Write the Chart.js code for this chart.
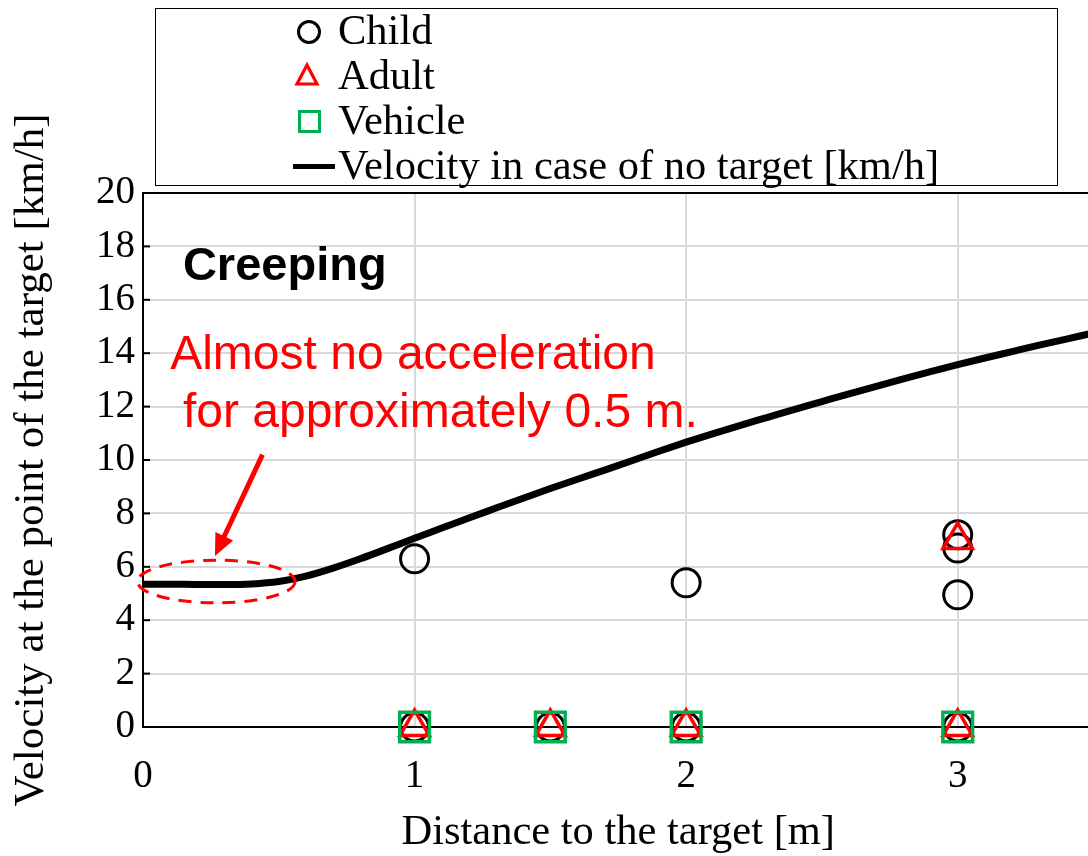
<!DOCTYPE html>
<html lang="en">
<head>
    <meta charset="UTF-8">
    <title>Creeping velocity</title>
    <script src="https://cdn.jsdelivr.net/npm/chart.js"></script>
    <style>
        html, body { margin: 0; padding: 0; background: #fff; overflow: hidden; }
        #wrap { position: absolute; left: 0; top: 0; width: 1118px; height: 856px; }
        #legend {
            position: absolute; left: 155px; top: 8px; width: 901px; height: 176px;
            border: 1.5px solid #000; background: #fff; z-index: 2;
            font-family: "Liberation Serif", "Times New Roman", serif; font-size: 42.5px; color: #000;
        }
        .row { position: absolute; left: 0; height: 45px; line-height: 45px; white-space: nowrap; }
        .row span.txt { position: absolute; left: 182px; top: -2px; }
        .mk { position: absolute; }
        .circle { left: 141px; top: 11px; width: 18px; height: 18px; border: 3px solid #000; border-radius: 50%; }
        .square { left: 142px; top: 11px; width: 17px; height: 17px; border: 3px solid #00B050; }
        .tri { left: 138px; top: 8px; }
        .line { left: 137px; top: 20px; width: 42px; height: 5px; background: #000; }
    </style>
</head>
<body>
    <div id="legend">
        <div class="row" style="top:0px"><div class="mk circle"></div><span class="txt">Child</span></div>
        <div class="row" style="top:45px"><svg class="mk tri" width="26" height="26"><polygon points="13,3 23,22 3,22" fill="none" stroke="#ff0000" stroke-width="3.2"/></svg><span class="txt">Adult</span></div>
        <div class="row" style="top:90px"><div class="mk square"></div><span class="txt">Vehicle</span></div>
        <div class="row" style="top:135px"><div class="mk line"></div><span class="txt">Velocity in case of no target [km/h]</span></div>
    </div>
    <div id="wrap"><canvas id="chart"></canvas></div>

    <script>
        // velocity without target
        const curveX = [0, 0.1, 0.2, 0.3, 0.4, 0.5, 0.6, 0.7, 0.8, 0.9, 1.0, 1.1, 1.2, 1.3, 1.4, 1.5, 1.6, 1.7, 1.8, 1.9, 2.0, 2.1, 2.2, 2.3, 2.4, 2.5, 2.6, 2.7, 2.8, 2.9, 3.0, 3.1, 3.2, 3.3, 3.4, 3.5];
        const curveY = [5.35, 5.35, 5.34, 5.34, 5.36, 5.45, 5.65, 5.95, 6.3, 6.68, 7.07, 7.45, 7.83, 8.2, 8.57, 8.93, 9.28, 9.62, 9.97, 10.33, 10.67, 10.99, 11.3, 11.6, 11.9, 12.19, 12.48, 12.76, 13.04, 13.31, 13.57, 13.82, 14.06, 14.3, 14.53, 14.76];

        const childX = [1, 2, 3, 3, 3, 1, 1.5, 2, 3];
        const childY = [6.3, 5.4, 7.2, 6.7, 4.95, 0, 0, 0, 0];
        const adultX = [3, 1, 1.5, 2, 3];
        const adultY = [7.0, 0, 0, 0, 0];
        const vehicleX = [1, 1.5, 2, 3];
        const vehicleY = [0, 0, 0, 0];

        const yTicks = [0, 2, 4, 6, 8, 10, 12, 14, 16, 18, 20];
        const xTicks = [0, 1, 2, 3];

        const pts = (xs, ys) => xs.map((x, i) => ({ x: x, y: ys[i] }));
        const serif = '"Liberation Serif", "Times New Roman", serif';
        const sans = '"Liberation Sans", Arial, sans-serif';

        const extras = {
            id: 'extras',
            beforeDatasetsDraw(chart) {
                const { ctx, chartArea: a, scales: { y } } = chart;
                ctx.save();
                ctx.strokeStyle = '#000';
                ctx.lineWidth = 2;
                // top frame line
                ctx.beginPath();
                ctx.moveTo(a.left, a.top);
                ctx.lineTo(a.right, a.top);
                ctx.stroke();
                // small inward ticks on the y axis
                yTicks.forEach(v => {
                    const py = y.getPixelForValue(v);
                    ctx.beginPath();
                    ctx.moveTo(a.left, py);
                    ctx.lineTo(a.left + 7, py);
                    ctx.stroke();
                });
                ctx.restore();
            },
            afterDatasetsDraw(chart) {
                const { ctx, scales: { x, y } } = chart;
                ctx.save();
                // labels
                ctx.textBaseline = 'alphabetic';
                ctx.textAlign = 'left';
                ctx.fillStyle = '#000';
                ctx.font = 'bold 47px ' + sans;
                ctx.fillText('Creeping', x.getPixelForValue(0.147), y.getPixelForValue(16.74));
                ctx.fillStyle = '#ff0000';
                ctx.font = '48px ' + sans;
                ctx.fillText('Almost no acceleration', x.getPixelForValue(0.1), y.getPixelForValue(13.4));
                ctx.fillText('for approximately 0.5 m.', x.getPixelForValue(0.147), y.getPixelForValue(11.25));

                // dashed ellipse round the flat part
                const cx = x.getPixelForValue(0.27), cy = y.getPixelForValue(5.45);
                const rx = x.getPixelForValue(0.56) - x.getPixelForValue(0.27);
                const ry = y.getPixelForValue(5.45) - y.getPixelForValue(6.25);
                ctx.strokeStyle = '#ff0000';
                ctx.lineWidth = 3;
                ctx.setLineDash([13, 9]);
                ctx.beginPath();
                ctx.ellipse(cx, cy, rx, ry, 0, 0, Math.PI * 2);
                ctx.stroke();
                ctx.setLineDash([]);

                // arrow
                const x0 = x.getPixelForValue(0.44), y0 = y.getPixelForValue(10.2);
                const x1 = x.getPixelForValue(0.265), y1 = y.getPixelForValue(6.4);
                const ang = Math.atan2(y1 - y0, x1 - x0);
                const head = 24;
                ctx.lineWidth = 5;
                ctx.beginPath();
                ctx.moveTo(x0, y0);
                ctx.lineTo(x1 - Math.cos(ang) * head * 0.8, y1 - Math.sin(ang) * head * 0.8);
                ctx.stroke();
                ctx.fillStyle = '#ff0000';
                ctx.beginPath();
                ctx.moveTo(x1, y1);
                ctx.lineTo(x1 - head * Math.cos(ang - 0.42), y1 - head * Math.sin(ang - 0.42));
                ctx.lineTo(x1 - head * Math.cos(ang + 0.42), y1 - head * Math.sin(ang + 0.42));
                ctx.closePath();
                ctx.fill();
                ctx.restore();
            }
        };

        new Chart(document.getElementById('chart'), {
            type: 'scatter',
            data: {
                datasets: [
                    {
                        label: 'Vehicle',
                        data: pts(vehicleX, vehicleY),
                        pointStyle: 'rect', pointRadius: 21, borderWidth: 3.5,
                        borderColor: '#00B050', backgroundColor: 'rgba(0,0,0,0)',
                        clip: false, order: 1
                    },
                    {
                        label: 'Adult',
                        data: pts(adultX, adultY),
                        pointStyle: 'triangle', pointRadius: 17, borderWidth: 3.5,
                        borderColor: '#ff0000', backgroundColor: 'rgba(0,0,0,0)',
                        clip: false, order: 2
                    },
                    {
                        label: 'Child',
                        data: pts(childX, childY),
                        pointStyle: 'circle', pointRadius: 14, borderWidth: 3,
                        borderColor: '#000', backgroundColor: 'rgba(0,0,0,0)',
                        clip: false, order: 3
                    },
                    {
                        label: 'Velocity in case of no target [km/h]',
                        type: 'line',
                        data: pts(curveX, curveY),
                        borderColor: '#000', borderWidth: 7,
                        pointRadius: 0, cubicInterpolationMode: 'monotone',
                        order: 4
                    }
                ]
            },
            options: {
                responsive: true,
                maintainAspectRatio: false,
                animation: false,
                events: [],
                layout: { padding: { top: 193, right: 0, left: 0, bottom: 0 } },
                plugins: { legend: { display: false }, tooltip: { enabled: false } },
                scales: {
                    x: {
                        type: 'linear', min: 0, max: 3.5,
                        afterFit: s => { s.height = 129; s.paddingLeft = 0; s.paddingRight = 0; },
                        afterBuildTicks: s => { s.ticks = xTicks.map(v => ({ value: v })); },
                        grid: { color: '#d9d9d9', lineWidth: 2, drawTicks: false },
                        border: { color: '#000', width: 2 },
                        ticks: { color: '#000', padding: 26, font: { family: serif, size: 39 } },
                        title: {
                            display: true, text: 'Distance to the target [m]', color: '#000',
                            font: { family: serif, size: 42.5, lineHeight: 1 }, padding: { top: 0, bottom: 2 }
                        }
                    },
                    y: {
                        min: 0, max: 20,
                        afterFit: s => { s.width = 143; },
                        afterBuildTicks: s => { s.ticks = yTicks.map(v => ({ value: v })); },
                        grid: { color: '#d9d9d9', lineWidth: 2, drawTicks: false },
                        border: { color: '#000', width: 2 },
                        ticks: { color: '#000', padding: 8, font: { family: serif, size: 39 } },
                        title: {
                            display: true, text: 'Velocity at the point of the target [km/h]', color: '#000',
                            font: { family: serif, size: 43, lineHeight: 1 }, padding: { top: 10, bottom: 0 }
                        }
                    }
                }
            },
            plugins: [extras]
        });
    </script>
</body>
</html>
